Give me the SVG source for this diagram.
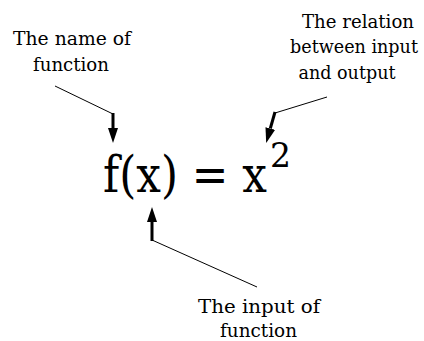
<svg xmlns="http://www.w3.org/2000/svg" width="424" height="341" viewBox="0 0 424 341">
<style>
text{fill:#000;font-family:"DejaVu Serif",serif}
.lbl{font-size:18.5px;text-anchor:middle}
.thin{stroke:#000;stroke-width:1;fill:none}
.thick{stroke:#000;stroke-width:3;fill:none}
</style>
<defs>
<marker id="ah" markerUnits="userSpaceOnUse" markerWidth="16" markerHeight="11" refX="0" refY="5" orient="auto" viewBox="0 0 16 11">
<path d="M0,0 L15,5 L0,10 z" fill="#000"/>
</marker>
</defs>
<rect width="424" height="341" fill="#fff"/>
<g id="formula">
<text x="103" y="192" font-size="50"><tspan textLength="164" lengthAdjust="spacingAndGlyphs">f(x) = x</tspan><tspan x="270" y="167" font-size="33">2</tspan></text>
</g>
<g id="name-label">
<text class="lbl" x="72" y="45" textLength="118" lengthAdjust="spacingAndGlyphs">The name of</text>
<text class="lbl" x="71" y="71" textLength="76" lengthAdjust="spacingAndGlyphs">function</text>
</g>
<g id="relation-label">
<text class="lbl" x="358" y="28" textLength="112" lengthAdjust="spacingAndGlyphs">The relation</text>
<text class="lbl" x="354" y="53" textLength="128" lengthAdjust="spacingAndGlyphs">between input</text>
<text class="lbl" x="347" y="79" textLength="97" lengthAdjust="spacingAndGlyphs">and output</text>
</g>
<g id="input-label">
<text class="lbl" x="259" y="313" textLength="122" lengthAdjust="spacingAndGlyphs">The input  of</text>
<text class="lbl" x="258.5" y="337" textLength="77" lengthAdjust="spacingAndGlyphs">function</text>
</g>
<g id="connectors">
<line class="thin" x1="55" y1="86" x2="113" y2="114"/>
<line class="thick" x1="113" y1="113" x2="113" y2="128" marker-end="url(#ah)"/>
<line class="thin" x1="327" y1="97" x2="275" y2="113"/>
<line class="thick" x1="275" y1="112" x2="270.3" y2="128.5" marker-end="url(#ah)"/>
<line class="thin" x1="257" y1="287" x2="152" y2="240"/>
<line class="thick" x1="152" y1="241" x2="152" y2="222" marker-end="url(#ah)"/>
</g>
</svg>
